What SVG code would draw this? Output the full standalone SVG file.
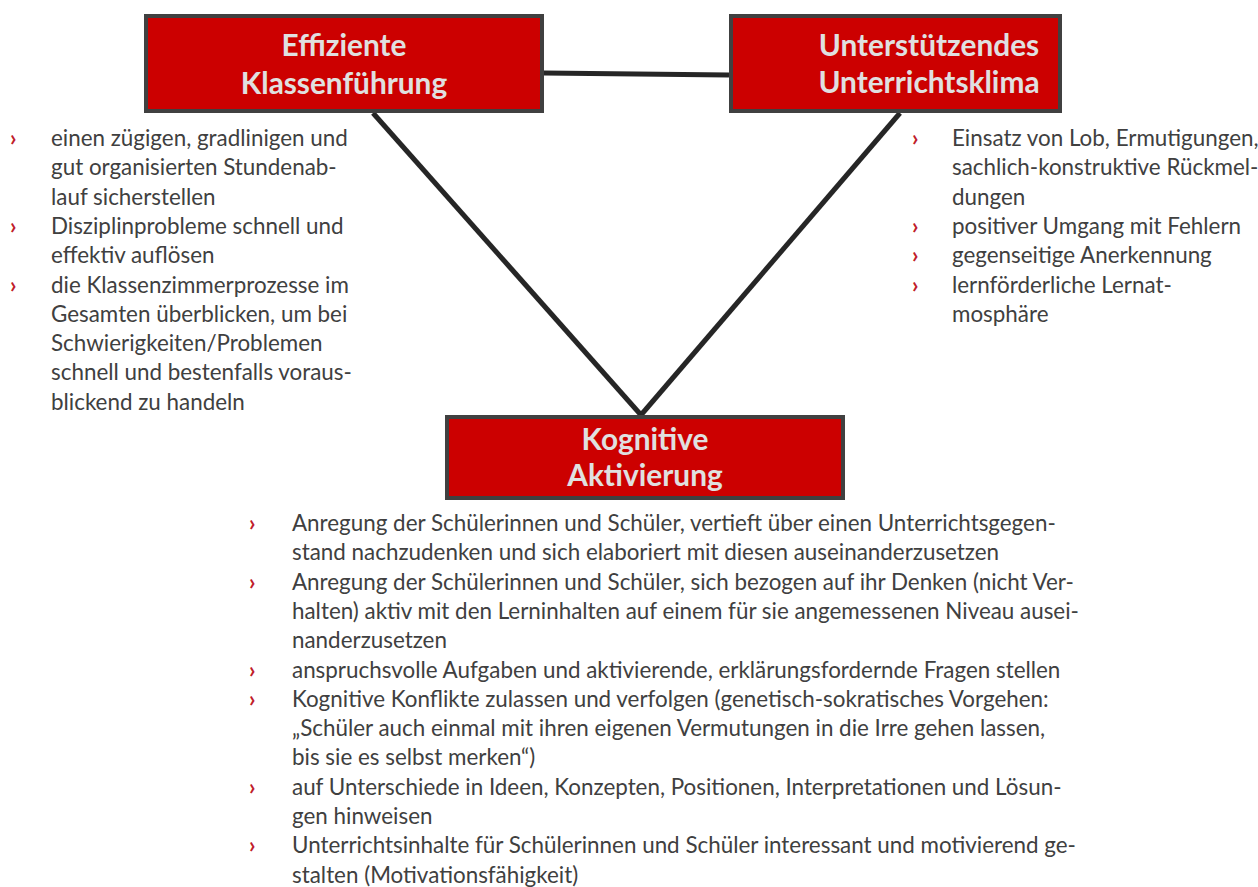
<svg xmlns="http://www.w3.org/2000/svg" width="1258" height="887" viewBox="0 0 1258 887">
<style>
.box{fill:#CC0000;stroke:#404040;stroke-width:4}
.title{font-family:Lato,"Open Sans",sans-serif;font-weight:bold;font-size:29.8px;fill:#E0E0E0;text-anchor:middle}
.body{font-family:Lato,"Open Sans",sans-serif;font-size:22.4px;fill:#404040}
.bul{font-family:Lato,"Open Sans",sans-serif;font-size:22.4px;font-weight:bold;fill:#C0202A}
.con{stroke:#262626;stroke-width:5;fill:none}
</style>
<rect width="1258" height="887" fill="#FFFFFF"/>
<g id="connectors">
<line class="con" x1="544" y1="73" x2="729" y2="75"/>
<line class="con" x1="373" y1="113" x2="641" y2="415"/>
<line class="con" x1="900" y1="113" x2="641" y2="415"/>
</g>
<g id="node-klassenfuehrung">
<rect class="box" x="146" y="16" width="396" height="95"/>
<text class="title" x="344" y="56">Effiziente</text>
<text class="title" x="344" y="94">Klassenführung</text>
</g>
<g id="node-unterrichtsklima">
<rect class="box" x="731" y="16" width="329" height="95"/>
<text class="title" x="929" y="56">Unterstützendes</text>
<text class="title" x="929" y="93">Unterrichtsklima</text>
</g>
<g id="node-aktivierung">
<rect class="box" x="447" y="417" width="396" height="81"/>
<text class="title" x="645" y="450">Kognitive</text>
<text class="title" x="645" y="486">Aktivierung</text>
</g>
<g id="list-klassenfuehrung">
<text class="bul" x="10" y="146">›</text>
<text class="bul" x="10" y="234">›</text>
<text class="bul" x="10" y="292.5">›</text>
<text class="body">
<tspan x="51" y="146">einen zügigen, gradlinigen und</tspan>
<tspan x="51" y="175.3">gut organisierten Stundenab-</tspan>
<tspan x="51" y="204.6">lauf sicherstellen</tspan>
<tspan x="51" y="233.9">Disziplinprobleme schnell und</tspan>
<tspan x="51" y="263.2">effektiv auflösen</tspan>
<tspan x="51" y="292.5">die Klassenzimmerprozesse im</tspan>
<tspan x="51" y="321.8">Gesamten überblicken, um bei</tspan>
<tspan x="51" y="351.1">Schwierigkeiten/Problemen</tspan>
<tspan x="51" y="380.4">schnell und bestenfalls voraus-</tspan>
<tspan x="51" y="409.7">blickend zu handeln</tspan>
</text>
</g>
<g id="list-unterrichtsklima">
<text class="bul" x="912" y="146">›</text>
<text class="bul" x="912" y="234">›</text>
<text class="bul" x="912" y="263.2">›</text>
<text class="bul" x="912" y="292.5">›</text>
<text class="body">
<tspan x="952" y="146">Einsatz von Lob, Ermutigungen,</tspan>
<tspan x="952" y="175.3">sachlich-konstruktive Rückmel-</tspan>
<tspan x="952" y="204.6">dungen</tspan>
<tspan x="952" y="233.9">positiver Umgang mit Fehlern</tspan>
<tspan x="952" y="263.2">gegenseitige Anerkennung</tspan>
<tspan x="952" y="292.5">lernförderliche Lernat-</tspan>
<tspan x="952" y="321.8">mosphäre</tspan>
</text>
</g>
<g id="list-aktivierung">
<text class="bul" x="249" y="531">›</text>
<text class="bul" x="249" y="589.6">›</text>
<text class="bul" x="249" y="677.5">›</text>
<text class="bul" x="249" y="706.8">›</text>
<text class="bul" x="249" y="794.7">›</text>
<text class="bul" x="249" y="853.3">›</text>
<text class="body">
<tspan x="292" y="531">Anregung der Schülerinnen und Schüler, vertieft über einen Unterrichtsgegen-</tspan>
<tspan x="292" y="560.3">stand nachzudenken und sich elaboriert mit diesen auseinanderzusetzen</tspan>
<tspan x="292" y="589.6">Anregung der Schülerinnen und Schüler, sich bezogen auf ihr Denken (nicht Ver-</tspan>
<tspan x="292" y="618.9">halten) aktiv mit den Lerninhalten auf einem für sie angemessenen Niveau ausei-</tspan>
<tspan x="292" y="648.2">nanderzusetzen</tspan>
<tspan x="292" y="677.5">anspruchsvolle Aufgaben und aktivierende, erklärungsfordernde Fragen stellen</tspan>
<tspan x="292" y="706.8">Kognitive Konflikte zulassen und verfolgen (genetisch-sokratisches Vorgehen:</tspan>
<tspan x="292" y="736.1">„Schüler auch einmal mit ihren eigenen Vermutungen in die Irre gehen lassen,</tspan>
<tspan x="292" y="765.4">bis sie es selbst merken“)</tspan>
<tspan x="292" y="794.7">auf Unterschiede in Ideen, Konzepten, Positionen, Interpretationen und Lösun-</tspan>
<tspan x="292" y="824">gen hinweisen</tspan>
<tspan x="292" y="853.3">Unterrichtsinhalte für Schülerinnen und Schüler interessant und motivierend ge-</tspan>
<tspan x="292" y="882.6">stalten (Motivationsfähigkeit)</tspan>
</text>
</g>
</svg>
